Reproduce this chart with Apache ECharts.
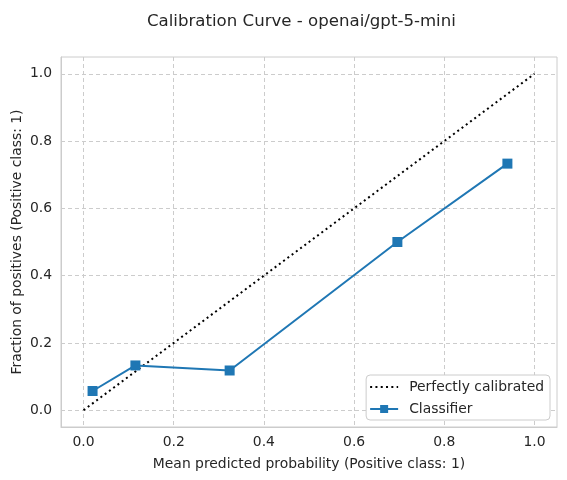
<!DOCTYPE html>
<html>
<head>
<meta charset="utf-8">
<script src="https://cdn.jsdelivr.net/npm/echarts@6/dist/echarts.min.js"></script>
<style>
  html, body { margin: 0; padding: 0; background: #fff; }
  #main { width: 567px; height: 480px; }
</style>
</head>
<body>
<div id="main"></div>
<script>
// data
var meanPred = [0.02, 0.115, 0.324, 0.696, 0.94];
var fracPos = [0.057, 0.133, 0.118, 0.5, 0.733];
var diagX = [0, 1];
var diagY = [0, 1];
var tickVals = [0, 0.2, 0.4, 0.6, 0.8, 1.0];

var font = 'DejaVu Sans';
var chart = echarts.init(document.getElementById('main'));

function pairs(xs, ys) {
  return xs.map(function (x, i) { return [x, ys[i]]; });
}

var axisCommon = {
  type: 'value',
  min: -0.05,
  max: 1.05,
  nameLocation: 'middle',
  nameMoveOverlap: false,
  nameTextStyle: { fontFamily: font, fontSize: 13.9, color: '#262626' },
  axisLine: { show: true, onZero: false, lineStyle: { color: '#cccccc', width: 1 } },
  axisTick: { show: false, customValues: tickVals },
  axisLabel: {
    customValues: tickVals,
    fontFamily: font, fontSize: 13.9, color: '#262626',
    formatter: function (v) { return v.toFixed(1); }
  },
  splitLine: { show: true, lineStyle: { color: '#cccccc', type: [4, 3], width: 1 } }
};

var option = {
  backgroundColor: '#ffffff',
  animation: false,
  title: {
    text: 'Calibration Curve - openai/gpt-5-mini',
    left: 142,
    top: 8,
    textStyle: { fontFamily: font, fontSize: 16.6, fontWeight: 'normal', color: '#262626' }
  },
  grid: {
    left: 61, right: 10, top: 57, bottom: 53,
    outerBoundsMode: 'none',
    show: true, borderColor: '#cccccc', borderWidth: 1
  },
  xAxis: Object.assign({}, axisCommon, {
    name: 'Mean predicted probability (Positive class: 1)',
    nameGap: 30,
    axisLabel: Object.assign({}, axisCommon.axisLabel, { margin: 8 })
  }),
  yAxis: Object.assign({}, axisCommon, {
    name: 'Fraction of positives (Positive class: 1)',
    nameGap: 37,
    axisLabel: Object.assign({}, axisCommon.axisLabel, { margin: 9 })
  }),
  legend: {
    orient: 'vertical',
    right: 17,
    bottom: 60,
    itemWidth: 28,
    itemHeight: 10,
    itemGap: 8,
    padding: [5, 6, 4, 3],
    borderColor: '#cccccc',
    borderWidth: 1,
    borderRadius: 4,
    backgroundColor: '#ffffff',
    textStyle: { fontFamily: font, fontSize: 13.9, color: '#262626', padding: [0, 0, 0, 6] },
    data: [
      { name: 'Perfectly calibrated', itemStyle: { opacity: 0 } },
      'Classifier'
    ]
  },
  series: [
    {
      name: 'Perfectly calibrated',
      type: 'line',
      data: pairs(diagX, diagY),
      showSymbol: false,
      symbol: 'none',
      lineStyle: { color: '#000000', width: 2, type: [2, 3.3] },
      itemStyle: { color: '#000000' },
      z: 3
    },
    {
      name: 'Classifier',
      type: 'line',
      data: pairs(meanPred, fracPos),
      symbol: 'rect',
      symbolSize: 10,
      lineStyle: { color: '#1f77b4', width: 2 },
      itemStyle: { color: '#1f77b4' },
      z: 4
    }
  ]
};
chart.setOption(option);
</script>
</body>
</html>
